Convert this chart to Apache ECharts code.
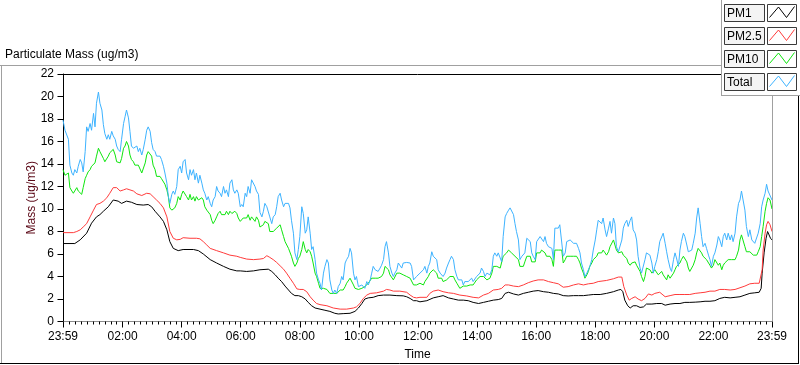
<!DOCTYPE html>
<html>
<head>
<meta charset="utf-8">
<script src="https://cdn.jsdelivr.net/npm/echarts@6/dist/echarts.min.js"></script>
<style>
html,body{margin:0;padding:0;background:#fff;}
#chart{width:800px;height:365px;}
</style>
</head>
<body>
<div id="chart"></div>
<script>
// ---- data (minutes after midnight; -1 and 1439 are the 23:59 ends) ----
const seriesNames = ['PM1', 'PM2.5', 'PM10', 'Total'];
const xTickLabels = ['23:59','02:00','04:00','06:00','08:00','10:00','12:00','14:00','16:00','18:00','20:00','22:00','23:59'];
const xTickMinutes = [-1,120,240,360,480,600,720,840,960,1080,1200,1320,1439];

const noisyMinutes = [
-1,3,6,10,13,17,20,23,27,30,34,37,40,44,47,50,54,57,61,64,67,71,74,78,81,84,88,91,94,98,
101,105,108,111,115,118,122,125,128,132,135,138,142,145,149,152,155,159,162,166,169,172,176,179,182,186,189,193,196,199,
203,206,210,213,216,220,223,226,230,233,237,240,243,247,250,254,257,260,264,267,270,274,277,281,284,287,291,294,298,301,
304,308,311,314,318,321,325,328,331,335,338,342,345,348,352,355,
359,362,365,369,372,375,379,382,386,389,392,396,399,403,406,409,413,416,419,423,426,430,433,436,440,443,447,450,453,457,
460,463,467,470,474,477,480,484,487,491,494,497,501,504,507,511,514,518,521,524,528,531,535,538,541,545,548,551,555,558,
562,565,568,572,575,579,582,585,589,592,595,599,602,606,609,612,616,619,623,626,629,633,636,639,643,646,650,653,656,660,
663,667,670,673,677,680,683,687,690,694,697,700,704,707,711,714,717,721,
724,727,731,734,738,741,744,748,751,755,758,761,765,768,771,775,778,782,785,788,792,795,799,802,805,809,812,815,819,822,
826,829,832,836,839,843,846,849,853,856,860,863,866,870,873,876,880,883,887,890,893,897,900,904,907,910,914,917,920,924,
927,931,934,937,941,944,948,951,954,958,961,964,968,971,975,978,981,985,988,992,995,998,1002,1005,1008,1012,1015,1019,1022,1025,
1029,1032,1036,1039,1042,1046,1049,1052,1056,1059,1063,1066,1069,1073,1076,1080,1083,1086,
1090,1093,1096,1100,1103,1107,1110,1113,1117,1120,1123,1127,1130,1134,1137,1140,1144,1147,1151,1154,1157,1161,1164,1167,1171,1174,1178,1181,1184,1188,
1191,1195,1198,1201,1205,1208,1211,1215,1218,1222,1225,1228,1232,1235,1239,1242,1245,1249,1252,1255,1259,1262,1266,1269,1272,1276,1279,1283,1286,1289,
1293,1296,1299,1303,1306,1310,1313,1316,1320,1323,1327,1330,1333,1337,1340,1343,1347,1350,1354,1357,1360,1364,1367,1371,1374,1377,1381,1384,1387,1391,
1394,1398,1401,1404,1408,1411,1415,1418,1421,1425,1428,1431,1435,1439
];

const totalValues = [
17.9,17.0,16.9,16.2,13.9,13.2,13.0,13.5,13.2,13.8,14.4,14.1,13.3,15.1,17.3,16.9,17.6,17.0,18.5,17.3,
19.4,20.4,19.4,18.8,17.5,16.7,16.2,16.6,16.2,16.9,16.5,16.2,15.6,15.3,15.1,16.2,17.6,18.2,18.8,18.1,
16.9,15.6,15.4,15.3,15.6,15.1,15.4,14.8,15.3,16.2,17.0,17.3,16.9,15.9,15.3,15.1,14.7,14.8,14.7,14.4,
13.8,13.2,12.3,11.1,10.5,11.3,11.6,11.3,12.0,13.5,13.8,13.2,14.2,14.4,13.2,12.6,13.5,13.0,13.5,12.6,
13.2,12.3,13.0,12.3,11.7,11.4,10.8,11.1,10.5,10.2,10.8,11.1,12.0,11.6,11.4,11.1,12.0,11.4,11.7,11.1,
12.3,12.6,11.7,11.4,11.7,11.4,
10.2,10.4,10.2,11.4,11.1,12.0,11.4,12.6,12.5,12.0,11.6,11.3,9.7,9.3,9.8,10.5,10.2,10.2,9.3,8.7,
9.3,9.5,10.2,11.1,11.4,10.8,10.2,10.5,10.4,10.5,10.1,9.0,7.85,6.1,5.5,6.4,7.55,10.2,9.6,7.85,
8.15,9.3,7.85,6.4,6.65,5.5,4.3,3.7,3.4,2.8,4.3,4.9,5.5,5.2,3.7,2.8,2.5,2.8,2.5,3.1,
3.4,4.0,3.7,5.2,5.5,5.8,6.5,6.1,4.3,3.7,4.0,3.1,2.95,3.25,3.1,2.95,3.55,3.25,3.7,4.3,
4.9,4.6,4.75,4.45,4.75,5.0,5.5,6.65,7.1,6.1,4.9,4.3,4.0,4.3,4.6,5.2,5.1,4.75,5.2,5.25,
5.25,5.2,5.2,4.9,3.7,3.55,4.0,4.15,
4.3,4.45,4.6,4.9,4.3,4.9,5.2,6.2,5.8,5.9,5.5,4.6,4.3,4.15,4.0,4.3,4.75,5.2,5.5,5.8,
5.5,4.6,4.0,3.7,3.55,3.7,3.25,3.55,3.4,3.55,3.45,3.85,3.55,3.7,4.0,3.85,4.3,4.75,4.45,4.0,
4.3,4.3,4.15,4.6,5.8,6.1,5.8,6.1,5.95,5.3,7.55,9.3,9.6,9.9,10.1,10.2,9.5,8.7,8.0,7.25,
5.5,5.8,5.65,6.1,7.4,7.55,7.1,6.1,5.8,5.5,7.1,7.25,7.55,7.7,7.1,7.55,6.95,6.65,6.8,6.5,
5.5,8.3,8.45,8.3,8.6,8.45,5.8,6.1,7.1,6.95,7.25,7.4,6.95,7.1,6.95,6.5,6.1,5.2,4.6,4.0,
4.3,4.6,4.9,5.5,6.35,7.25,8.15,9.0,
9.0,8.7,9.2,8.15,7.55,8.3,8.9,7.85,9.2,8.7,6.65,6.2,6.2,7.25,8.3,8.7,9.0,8.45,9.0,9.3,
8.15,7.85,7.25,5.8,4.75,4.3,4.45,5.5,6.1,6.2,5.9,5.2,4.3,4.9,5.5,6.2,7.1,6.95,7.85,6.95,
6.2,5.5,4.75,4.45,5.5,6.1,5.65,4.9,6.35,7.1,7.85,7.55,6.8,6.2,6.1,6.35,6.95,7.85,9.2,10.1,
8.7,7.55,6.65,6.95,6.5,5.9,5.5,4.9,5.8,6.1,6.8,7.55,7.25,6.65,7.55,7.85,7.25,7.85,7.25,7.7,
7.1,7.85,9.3,10.5,10.8,11.6,11.7,9.9,8.45,7.55,8.15,7.25,7.1,6.95,7.1,7.85,8.7,10.2,10.8,11.4,
12.2,11.6,11.5,10.8
];

const pm10Values = [
13.5,13.0,13.0,13.2,11.9,11.6,11.4,11.3,11.9,11.6,11.7,11.3,11.9,12.7,13.0,13.3,13.5,13.8,13.8,14.1,
14.7,15.4,15.1,15.0,14.5,14.2,14.1,14.7,15.0,15.1,15.3,14.8,14.2,14.1,14.1,14.5,15.4,15.6,16.0,15.6,
14.8,14.4,14.2,13.9,13.8,13.9,13.8,13.2,13.3,14.1,14.8,15.1,15.1,14.7,13.9,13.5,12.9,13.0,12.9,12.7,
12.6,12.2,11.7,11.1,10.1,9.9,9.9,10.1,10.5,11.1,10.8,11.3,11.6,11.7,11.1,10.8,11.3,10.8,11.1,10.7,
11.1,10.8,10.7,11.0,10.8,10.2,9.9,9.8,9.5,9.0,8.7,9.0,9.3,9.6,9.8,9.5,9.6,9.5,9.8,9.5,
9.8,9.6,9.5,9.8,9.6,9.2,
8.9,9.0,9.2,9.3,9.2,9.5,9.0,9.3,9.2,8.9,9.3,9.0,8.4,8.3,8.6,8.9,9.0,8.7,8.0,7.85,
8.0,8.15,8.3,8.4,8.6,8.15,7.55,7.1,6.95,6.5,6.4,5.8,5.2,4.9,5.2,5.6,5.8,6.4,7.1,6.4,
6.1,6.4,6.2,5.8,5.2,4.3,4.0,3.4,2.95,2.8,2.95,2.8,2.85,2.8,2.5,2.45,2.5,2.35,2.5,2.65,
2.8,2.95,2.8,3.1,3.4,3.55,3.85,3.7,3.25,2.95,2.8,2.85,2.8,2.95,2.8,3.1,3.25,3.4,3.55,3.85,
4.0,3.85,3.7,3.85,4.0,4.0,4.3,4.9,5.0,4.6,4.15,4.0,3.7,3.85,4.3,4.35,4.3,4.15,4.15,4.0,
4.0,4.0,3.85,3.7,3.25,3.1,3.25,3.3,
3.4,3.3,3.25,3.55,3.4,4.0,4.3,4.45,4.6,4.45,4.3,3.85,3.7,3.85,3.55,3.45,3.7,3.85,4.0,4.15,
4.0,3.7,3.4,3.25,2.95,3.1,3.15,3.1,3.15,3.25,3.25,3.35,3.25,3.35,3.7,3.55,4.0,3.85,4.0,3.85,
3.7,3.75,3.85,4.3,4.9,5.0,4.9,4.75,4.75,4.6,5.8,5.9,6.1,6.35,6.2,6.1,5.95,5.8,5.8,5.5,
4.9,4.75,4.9,5.3,5.8,5.65,5.8,5.3,5.2,5.3,6.1,6.2,6.1,6.35,6.2,6.1,5.8,5.8,5.8,5.5,
4.9,6.35,6.5,6.35,6.5,6.35,5.2,5.5,5.8,5.65,5.8,5.9,5.8,5.65,5.8,5.5,5.2,4.75,4.3,3.85,
4.15,4.45,4.9,5.2,5.5,5.6,5.8,6.1,
6.2,6.1,6.35,6.1,5.9,6.2,6.65,6.8,7.25,7.1,6.35,6.1,6.2,6.2,5.9,5.8,5.6,5.2,5.0,5.2,
5.3,5.3,5.0,4.9,4.45,4.0,3.55,4.0,4.75,4.9,4.6,4.3,4.3,4.6,4.45,4.15,4.3,4.45,4.15,4.0,
3.7,4.15,3.85,4.0,4.3,4.6,4.9,4.75,5.2,5.5,5.8,5.8,5.3,4.75,4.45,4.6,5.0,5.5,6.1,6.5,
6.35,6.1,5.8,5.65,5.5,5.35,5.0,4.75,5.0,5.5,5.35,5.0,5.2,4.6,5.0,5.2,5.35,5.5,5.65,5.5,
5.35,5.5,5.8,6.35,7.25,7.7,7.55,6.65,6.2,6.1,6.2,6.1,5.9,5.8,5.9,6.2,6.65,7.55,8.45,9.8,
10.5,11.0,10.8,10.0
];

const pm25Minutes = [
-1,20,27,34,40,47,54,61,67,74,81,88,94,101,108,115,122,128,135,142,149,159,169,176,182,189,196,203,210,216,
223,230,237,243,257,270,277,284,291,298,311,325,338,352,
359,372,386,399,406,413,419,426,433,440,447,453,460,467,474,480,487,494,501,507,514,521,535,548,562,575,589,595,602,609,
616,623,636,650,656,663,670,683,697,704,711,717,
724,738,744,751,761,771,782,792,805,819,832,843,853,863,873,883,890,897,904,914,924,934,944,954,964,975,985,995,1005,1015,
1025,1036,1046,1056,1066,1076,1086,
1103,1117,1127,1134,1138,1144,1149,1154,1161,1167,1174,1181,1188,1195,1201,1211,1222,1232,1242,1252,1262,1272,1283,1293,1303,1313,1323,1333,1343,1354,
1364,1374,1384,1394,1404,1413,1416,1419,1421,1425,1428,1431,1435,1439
];
const pm25Values = [
7.9,7.9,8.0,8.15,8.4,8.7,9.3,9.9,10.4,10.5,10.7,11.0,11.4,11.9,11.9,11.6,11.7,11.8,11.7,11.6,11.35,11.2,11.4,11.35,11.1,10.8,10.5,10.1,9.3,8.0,
7.4,7.26,7.3,7.45,7.4,7.4,7.35,7.1,6.8,6.5,6.3,6.1,5.9,5.8,
5.7,5.55,5.5,5.55,5.6,5.85,5.7,5.5,5.25,4.95,4.65,4.3,3.85,3.4,2.9,2.85,2.85,2.65,2.2,1.9,1.6,1.5,1.4,1.2,1.1,1.1,1.2,1.3,1.6,2.05,
2.35,2.5,2.55,2.7,2.85,2.8,2.7,2.7,2.6,2.35,2.15,2.1,
2.15,2.15,2.5,2.7,2.8,2.65,2.55,2.5,2.35,2.27,2.15,2.1,2.35,2.5,2.8,2.85,2.95,3.25,3.25,3.15,3.1,3.25,3.45,3.6,3.7,3.7,3.55,3.45,3.35,3.05,
3.1,3.25,3.35,3.25,3.35,3.4,3.55,
3.65,3.8,3.95,3.95,3.1,2.35,1.9,2.05,2.2,2.0,1.85,2.05,2.45,2.35,2.5,2.6,2.2,2.3,2.4,2.4,2.4,2.4,2.5,2.55,2.6,2.7,2.7,2.85,2.85,2.8,
2.85,3.0,3.15,3.35,3.4,3.4,3.55,4.6,6.35,7.85,8.6,8.9,8.6,8.0
];

const pm1Minutes = [
-1,23,34,47,57,67,74,81,91,101,111,118,128,138,149,162,172,179,186,196,203,210,216,223,233,243,264,274,284,298,
311,325,338,352,
359,372,386,399,416,423,430,436,443,450,457,463,470,477,484,491,497,504,511,521,531,541,551,558,568,582,592,599,606,612,
619,629,639,650,663,677,690,697,704,711,717,
724,738,751,761,771,782,792,802,812,822,832,843,853,863,873,883,890,897,904,914,924,934,944,954,964,975,985,995,1005,1015,
1025,1036,1046,1056,1066,1076,
1090,1103,1117,1127,1132,1136,1140,1146,1151,1157,1164,1171,1178,1184,1195,1205,1215,1222,1232,1242,1252,1262,1272,1283,1293,1303,1313,1323,1333,1343,
1354,1364,1374,1384,1394,1404,1413,1417,1419,1423,1427,1430,1433,1436,1439
];
const pm1Values = [
6.93,6.93,7.26,7.85,8.74,9.3,9.5,9.8,10.2,10.8,10.7,10.5,10.7,10.6,10.4,10.35,10.4,10.2,9.8,9.3,8.9,8.15,7.1,6.5,6.3,6.4,6.4,6.3,6.0,5.5,
5.2,4.9,4.65,4.5,
4.5,4.45,4.5,4.6,4.65,4.45,4.15,3.85,3.55,3.15,2.8,2.5,2.3,2.3,2.2,2.0,1.7,1.4,1.2,1.1,1.0,0.9,0.73,0.67,0.7,0.73,0.9,1.2,1.6,2.0,
2.1,2.15,2.3,2.35,2.35,2.3,2.28,2.2,2.05,1.85,1.85,
1.75,1.85,2.1,2.2,2.3,2.1,2.0,1.9,1.9,1.85,1.7,1.6,1.7,1.8,1.9,1.95,2.05,2.5,2.6,2.45,2.35,2.5,2.6,2.7,2.75,2.65,2.6,2.5,2.45,2.3,
2.27,2.3,2.3,2.3,2.35,2.4,
2.4,2.5,2.65,2.8,2.85,2.65,1.9,1.4,1.2,1.4,1.4,1.25,1.3,1.55,1.55,1.6,1.6,1.45,1.55,1.6,1.6,1.7,1.7,1.72,1.75,1.8,1.8,1.85,2.05,2.15,
2.1,2.15,2.2,2.35,2.5,2.55,2.6,2.95,4.3,6.1,7.4,8.0,7.85,7.4,7.25
];

// ---- build ----
const colors = {PM1:'#000000', 'PM2.5':'#ff3b3b', PM10:'#0ee60e', Total:'#3db3ff'};
function zip(xs, ys){ return xs.map((x,i)=>[x, ys[i]]); }
const seriesData = {
  'PM1': zip(pm1Minutes, pm1Values),
  'PM2.5': zip(pm25Minutes, pm25Values),
  'PM10': zip(noisyMinutes, pm10Values),
  'Total': zip(noisyMinutes, totalValues)
};
const minorTicks = [];
for (let m = 12; m < 1439; m += 12) { if (m % 120 !== 0) minorTicks.push(m); }
const labelFor = {};
xTickMinutes.forEach((m,i)=>{ labelFor[m] = xTickLabels[i]; });

const FONT = '"Liberation Sans", Arial, sans-serif';

function line(x1,y1,x2,y2,color,z){
  return {type:'line', shape:{x1,y1,x2,y2}, style:{stroke:color, lineWidth:1}, z:z||50, silent:true};
}
const graphics = [
  {type:'text', left:5, top:49, style:{text:'Particulate Mass (ug/m3)', font:'12px '+FONT, fill:'#000'}, z:50},
  line(0,65.5,722,65.5,'#a0a0a0'),
  line(1.5,65,1.5,364,'#a0a0a0'),
  line(0,363.5,799,363.5,'#000'),
  line(798.5,95,798.5,364,'#000'),
  line(63,74.5,772,74.5,'#000'),
  line(772.5,74,772.5,321,'#a0a0a0'),
  {type:'rect', shape:{x:722,y:0,width:78,height:95}, style:{fill:'#ffffff'}, z:55, silent:true},
  line(721.5,0,721.5,96,'#a0a0a0',56),
  line(721,95.5,800,95.5,'#a0a0a0',56)
];
const rowTops = [4,27,50,73];
seriesNames.forEach((name,i)=>{
  const y = rowTops[i];
  graphics.push({type:'rect', shape:{x:724.5,y:y+0.5,width:40,height:17}, style:{fill:'#f4f4f4', stroke:'#3a3a3a', lineWidth:1}, z:60});
  graphics.push({type:'text', x:727, y:y+9.5, style:{text:name, font:'12px '+FONT, fill:'#000', verticalAlign:'middle'}, z:61});
  graphics.push({type:'rect', shape:{x:767.5,y:y+0.5,width:29,height:17}, style:{fill:'#ffffff', stroke:'#3a3a3a', lineWidth:1}, z:60});
  graphics.push({type:'polyline', shape:{points:[[769.5,y+13.5],[778.5,y+3],[786.5,y+13.5],[794.5,y+2.5]]}, style:{stroke:colors[name], lineWidth:1, fill:null}, z:61});
});

const chart = echarts.init(document.getElementById('chart'), null, {renderer:'canvas'});
chart.setOption({
  animation:false,
  backgroundColor:'#ffffff',
  grid:{left:63, top:74, width:709, height:247.5, containLabel:false, outerBoundsMode:'none'},
  xAxis:[{
    type:'value', min:-1, max:1439,
    axisLine:{show:true, lineStyle:{color:'#8c8c8c', width:1}},
    axisTick:{show:true, customValues:xTickMinutes, length:6, lineStyle:{color:'#000'}},
    axisLabel:{customValues:xTickMinutes, margin:9, color:'#000', fontSize:12, fontFamily:FONT,
      formatter:(v)=>labelFor[v] !== undefined ? labelFor[v] : ''},
    splitLine:{show:false},
    name:'Time', nameLocation:'middle', nameGap:27, nameMoveOverlap:false,
    nameTextStyle:{color:'#000', fontSize:12, fontFamily:FONT}
  },{
    type:'value', min:-1, max:1439, position:'bottom',
    axisLine:{show:false},
    axisTick:{show:true, customValues:minorTicks, length:3, lineStyle:{color:'#000'}},
    axisLabel:{show:false},
    splitLine:{show:false}
  }],
  yAxis:{
    type:'value', min:0, max:22, interval:2,
    axisLine:{show:true, lineStyle:{color:'#000', width:1}},
    axisTick:{show:true, length:6, lineStyle:{color:'#000'}},
    axisLabel:{color:'#000', fontSize:12, fontFamily:FONT, margin:9},
    splitLine:{show:false},
    name:'Mass (ug/m3)', nameLocation:'middle', nameRotate:90, nameGap:25, nameMoveOverlap:false,
    nameTextStyle:{color:'#5c0a18', fontSize:12, fontFamily:FONT}
  },
  graphic:graphics,
  series:seriesNames.map(name=>({
    name, type:'line', xAxisIndex:0, yAxisIndex:0,
    data:seriesData[name], showSymbol:false, symbol:'none',
    lineStyle:{color:colors[name], width:1}, itemStyle:{color:colors[name]},
    clip:true, silent:true
  }))
});
</script>
</body>
</html>
